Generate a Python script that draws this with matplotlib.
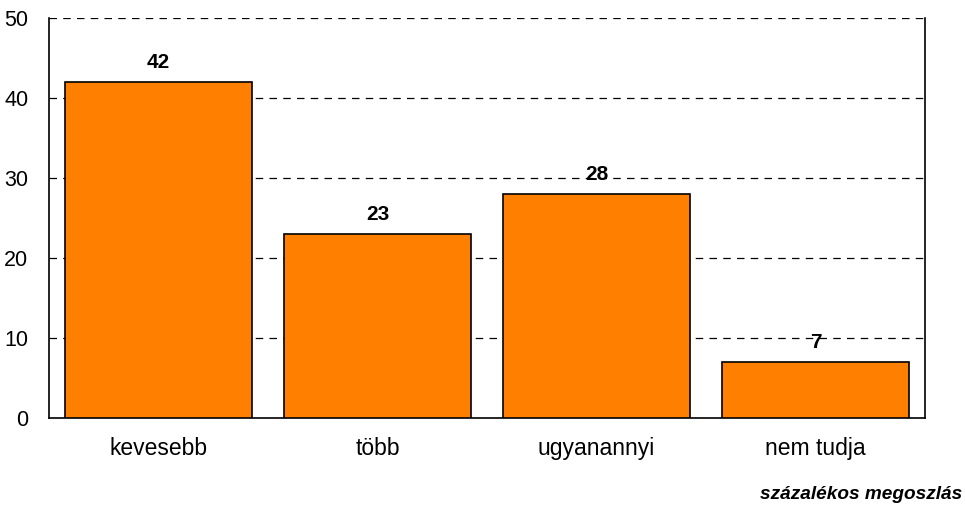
import matplotlib.pyplot as plt

# data
categories = ['kevesebb', 'több', 'ugyanannyi', 'nem tudja']
values = [42, 23, 28, 7]
yticks = [0, 10, 20, 30, 40, 50]

plt.rcParams['font.family'] = ['Liberation Sans', 'DejaVu Sans']

fig = plt.figure(figsize=(9.65, 5.09), dpi=100)
ax = fig.add_axes([0.0508, 0.1788, 0.9077, 0.7858])

x = range(len(categories))
ax.bar(x, values, width=0.85, color='#FF8000', edgecolor='black', linewidth=1.2, zorder=3)

# value labels above bars
for xi, v in zip(x, values):
    ax.text(xi, v + 1.2, str(v), ha='center', va='bottom', fontsize=15, fontweight='bold', zorder=4)

ax.set_xlim(-0.5, len(categories) - 0.5)
ax.set_ylim(0, 50)
ax.set_yticks(yticks)
ax.set_xticks(list(x))
ax.set_xticklabels(categories, fontsize=16.5)
ax.tick_params(axis='y', labelsize=15.5, length=0, pad=15)
ax.tick_params(axis='x', length=0, pad=14)

# dashed gridlines, top one doubles as frame
for yv in yticks[1:]:
    ax.axhline(yv, color='black', linestyle=(0, (6, 5)), linewidth=0.9, zorder=1)

ax.spines['top'].set_visible(False)
for s in ['left', 'right', 'bottom']:
    ax.spines[s].set_linewidth(1.2)

fig.text(0.997, 0.012, 'százalékos megoszlás', ha='right', va='bottom',
         fontsize=13.7, fontweight='bold', fontstyle='italic')

fig.savefig('out.png', dpi=100)
